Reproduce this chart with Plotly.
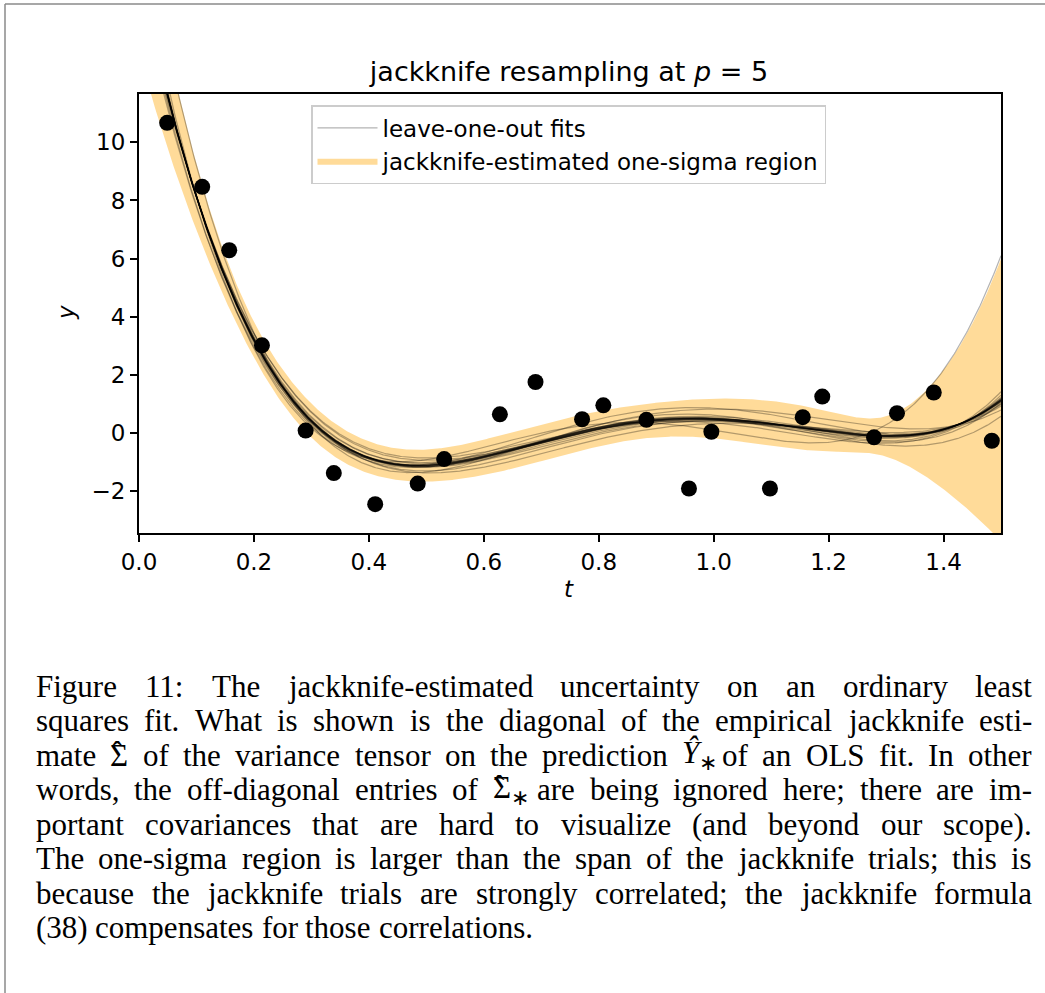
import numpy as np
import plotly.graph_objects as go

# ---------------- data ----------------
t_data = [0.049, 0.110, 0.157, 0.214, 0.290, 0.339, 0.411, 0.485, 0.531, 0.628,
          0.690, 0.771, 0.808, 0.883, 0.957, 0.996, 1.098, 1.155, 1.189, 1.279,
          1.319, 1.383, 1.484]
y_data = [10.67, 8.47, 6.29, 3.02, 0.09, -1.37, -2.44, -1.73, -0.89, 0.65,
          1.76, 0.48, 0.96, 0.46, -1.90, 0.05, -1.90, 0.55, 1.26, -0.14,
          0.69, 1.40, -0.26]
p_features = 5
x_ticks = [0.0, 0.2, 0.4, 0.6, 0.8, 1.0, 1.2, 1.4]
y_ticks = [-2, 0, 2, 4, 6, 8, 10]

title_text = "jackknife resampling at <i>p</i> = 5"
legend_names = ["leave-one-out fits", "jackknife-estimated one-sigma region"]

caption_lines = [
    "Figure 11: The jackknife-estimated uncertainty on an ordinary least",
    "squares fit. What is shown is the diagonal of the empirical jackknife esti-",
    "mate Σ̂ of the variance tensor on the prediction Ŷ∗ of an OLS fit. In other",
    "words, the off-diagonal entries of Σ̂∗ are being ignored here; there are im-",
    "portant covariances that are hard to visualize (and beyond our scope).",
    "The one-sigma region is larger than the span of the jackknife trials; this is",
    "because the jackknife trials are strongly correlated; the jackknife formula",
    "(38) compensates for those correlations.",
]

# ---------------- OLS + jackknife ----------------
t = np.array(t_data)
y = np.array(y_data)
N = len(t)
tt = np.linspace(0.0, 1.5, 700)


def design(x):
    return np.vander(x, p_features, increasing=True)


A = design(t)
Ag = design(tt)
beta_full = np.linalg.lstsq(A, y, rcond=None)[0]
f_full = Ag @ beta_full
loo = []
for i in range(N):
    m = np.ones(N, bool)
    m[i] = False
    b = np.linalg.lstsq(A[m], y[m], rcond=None)[0]
    loo.append(Ag @ b)
loo = np.array(loo)
mean_loo = loo.mean(axis=0)
sigma = np.sqrt((N - 1) / N * ((loo - mean_loo) ** 2).sum(axis=0))

# ---------------- layout geometry ----------------
W, H = 1045, 993
L, R, T, B = 139, 1001, 94, 533
pw, ph = R - L, B - T


def px2x(px):
    return (px - L) / pw


def py2y(py):
    return (B - py) / ph


fig = go.Figure()

# band
fig.add_trace(go.Scatter(x=tt, y=f_full - sigma, mode="lines", line=dict(width=0),
                         showlegend=False, hoverinfo="skip"))
fig.add_trace(go.Scatter(x=tt, y=f_full + sigma, mode="lines", line=dict(width=0),
                         fill="tonexty", fillcolor="rgba(255,165,0,0.4)",
                         name=legend_names[1], legendrank=2))
# leave-one-out fits
for i in range(N):
    fig.add_trace(go.Scatter(x=tt, y=loo[i], mode="lines",
                             line=dict(color="rgba(0,0,0,0.3)", width=1.2),
                             name=legend_names[0], showlegend=(i == 0),
                             legendgroup="loo", legendrank=1))
# data
fig.add_trace(go.Scatter(x=t_data, y=y_data, mode="markers",
                         marker=dict(color="black", size=16),
                         showlegend=False))

axis_common = dict(showline=True, linecolor="black", linewidth=2, mirror=True,
                   ticks="outside", ticklen=7, tickwidth=1.5, tickcolor="black",
                   showgrid=False, zeroline=False,
                   tickfont=dict(family="DejaVu Sans", size=23, color="black"))
fig.update_xaxes(range=[0, 1.5], tickvals=x_ticks,
                 ticktext=[f"{v:.1f}" for v in x_ticks], **axis_common)
fig.update_yaxes(range=[-3.43, 11.66], tickvals=y_ticks,
                 ticktext=[("\u2212" + str(-v)) if v < 0 else str(v) for v in y_ticks],
                 **axis_common)

annotations = []
annotations.append(dict(text="<i>t</i>", x=px2x(569), y=py2y(589), xref="paper", yref="paper",
                        showarrow=False, font=dict(family="DejaVu Sans", size=23, color="black"),
                        xanchor="center", yanchor="middle"))
annotations.append(dict(text="<i>y</i>", x=px2x(66), y=py2y(313), xref="paper", yref="paper",
                        showarrow=False, textangle=-90,
                        font=dict(family="DejaVu Sans", size=23, color="black"),
                        xanchor="center", yanchor="middle"))

# ---------------- caption (justified) ----------------
TW = {
    'a': 444, 'b': 500, 'c': 444, 'd': 500, 'e': 444, 'f': 333, 'g': 500, 'h': 500,
    'i': 278, 'j': 278, 'k': 500, 'l': 278, 'm': 778, 'n': 500, 'o': 500, 'p': 500,
    'q': 500, 'r': 333, 's': 389, 't': 278, 'u': 500, 'v': 500, 'w': 722, 'x': 500,
    'y': 500, 'z': 444, 'A': 722, 'B': 667, 'C': 667, 'D': 722, 'E': 611, 'F': 556,
    'G': 722, 'H': 722, 'I': 333, 'J': 389, 'K': 722, 'L': 611, 'M': 889, 'N': 722,
    'O': 722, 'P': 556, 'Q': 722, 'R': 667, 'S': 556, 'T': 611, 'U': 722, 'V': 722,
    'W': 944, 'X': 722, 'Y': 722, 'Z': 611, ' ': 250, '.': 250, ',': 250, ':': 278,
    ';': 278, '-': 333, '(': 333, ')': 333, 'Σ': 600, '∗': 350, '\u0302': 0,
}
for dch in "0123456789":
    TW[dch] = 500
FS = 31
CAP_L, CAP_R = 34, 1030
line_y = [686, 720.5, 755, 789.5, 824, 858.5, 893, 927.5]
cap_font = dict(family="Liberation Serif", size=FS, color="black")


def wwidth(s):
    return sum(TW.get(ch, 500) for ch in s) * FS / 1000.0


for li, line in enumerate(caption_lines):
    words = line.split(" ")
    widths = [wwidth(w) for w in words]
    if li < len(caption_lines) - 1:
        gap = (CAP_R - CAP_L - sum(widths)) / (len(words) - 1)
    else:
        gap = 250 * FS / 1000.0
    x = CAP_L
    for w, wd in zip(words, widths):
        html = w
        if "Σ\u0302" in w:
            html = w.replace("Σ\u0302∗", "Σ<sub>∗</sub>").replace("Σ\u0302", "Σ")
            annotations.append(dict(text="ˆ", x=px2x(x + 0.29 * FS), y=py2y(line_y[li] - 3),
                                    xref="paper", yref="paper", showarrow=False,
                                    xanchor="center", yanchor="middle", font=cap_font))
        elif "Ŷ∗" in w:
            html = w.replace("Ŷ∗", "<i>Ŷ</i><sub>∗</sub>")
        annotations.append(dict(text=html, x=px2x(x), y=py2y(line_y[li]),
                                xref="paper", yref="paper", showarrow=False,
                                xanchor="left", yanchor="middle", font=cap_font))
        x += wd + gap

# page border lines (top and left)
shapes = [
    dict(type="line", xref="paper", yref="paper", x0=px2x(5), x1=px2x(1045),
         y0=py2y(4), y1=py2y(4), line=dict(color="#8a8a8a", width=1.5)),
    dict(type="line", xref="paper", yref="paper", x0=px2x(5), x1=px2x(5),
         y0=py2y(4), y1=py2y(993), line=dict(color="#8a8a8a", width=1.5)),
]

fig.update_layout(
    width=W, height=H,
    margin=dict(l=L, r=W - R, t=T, b=H - B, pad=0),
    paper_bgcolor="white", plot_bgcolor="white",
    title=dict(text=title_text, x=569 / W, xanchor="center",
               y=1 - 72 / H, yanchor="middle",
               font=dict(family="DejaVu Sans", size=27, color="black")),
    legend=dict(x=px2x(311), y=py2y(105), xanchor="left", yanchor="top",
                bgcolor="rgba(255,255,255,0.8)", bordercolor="#cccccc", borderwidth=1.5,
                font=dict(family="DejaVu Sans", size=23, color="black"),
                traceorder="normal", itemwidth=60, tracegroupgap=0),
    annotations=annotations,
    shapes=shapes,
    showlegend=True,
)

fig.write_html("out.html", config={"displayModeBar": False},
               post_script="document.body.style.margin='0';document.body.style.padding='0';")
